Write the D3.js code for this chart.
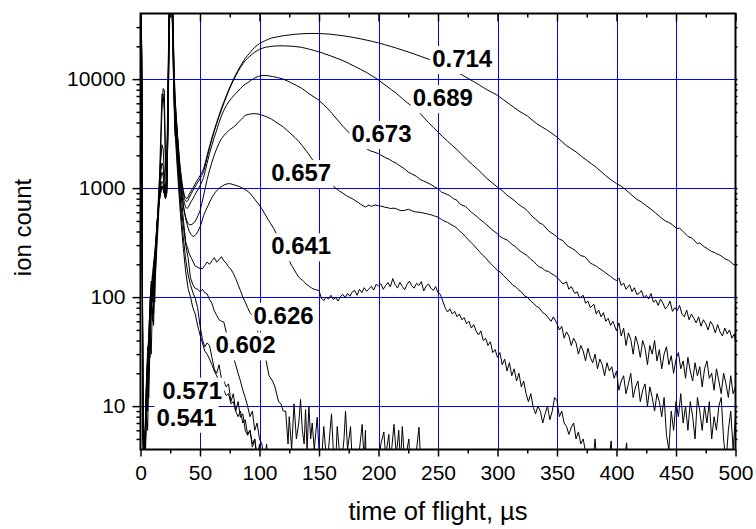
<!DOCTYPE html>
<html>
<head>
<meta charset="utf-8">
<script src="https://cdn.jsdelivr.net/npm/d3@7"></script>
<style>
  body { margin: 0; background: #fff; }
  svg { display: block; }
  text { font-family: "Liberation Sans", Arial, Helvetica, sans-serif; }
</style>
</head>
<body>
<svg id="chart" width="756" height="529"></svg>
<script>
// Time-of-flight spectra: [time (µs), ion count] for each ratio
const ratio541 = [[0,90000],[1,9000],[2,8],[3,2],[4,3],[5,9],[6,6],[7,20],[8,45],[9,30],[10,80],[11,55],[12,140],[13,200],[14,320],[15,500],[16,900],[17,2200],[18,5000],[19,8200],[20,8000],[21,2000],[22,900],[23,3000],[24,20000],[25,60000],[26,80000],[27,40000],[28,9000],[29,4000],
  [30,2200],[32,1000],[34,500],[36,280],[38,170],[40,120],[42,100],[44,80],[46,70],[48,55],[50,45],[52,38],[54,32],[56,30],[58,27],[60,24],[62,21],[64,19],[66,17],[68,15],[70,14],[72,12.5],[74,13],[76,10.5],[78,11],[80,9],[82,8],[84,9],[86,7],[88,7.5],[90,5.5],[92,6],[94,4.5],[96,5],[98,3.5],[100,4.2],[102,2],[106,2]];

const ratio571 = [[0,90000],[1,10000],[2,5],[3,3],[4,5],[5,10],[6,15],[7,12],[8,40],[9,100],[10,60],[11,120],[12,90],[13,230],[14,400],[15,700],[16,1300],[17,3000],[18,7300],[19,7300],[20,5000],[21,1600],[22,1000],[23,5000],[24,30000],[25,70000],[26,70000],[27,30000],[28,8000],[29,3500],
  [30,2500],[32,1200],[34,600],[36,350],[38,220],[40,160],[42,130],[44,110],[46,98],[48,80],[50,55],[52,41],[54,35],[56,38],[58,36],[60,28],[62,22],[64,20],[66,24],[68,18],[70,17],[72,15],[74,16],[76,11],[78,13],[80,9],[82,11],[84,7.9],[86,8.5],[88,6],[90,5.4],[92,6],[94,4.2],[96,5],[98,3],[100,4.5],[102,2],[106,2]];

const ratio602 = [[0,90000],[1,8000],[2,6],[3,2],[4,4],[5,8],[6,18],[7,35],[8,28],[9,90],[10,130],[11,70],[12,160],[13,250],[14,450],[15,800],[16,1200],[17,1800],[18,2500],[19,2300],[20,1400],[21,1000],[22,1200],[23,8000],[24,45000],[25,80000],[26,60000],[27,25000],[28,7000],[29,3000],
  [30,2800],[32,1400],[34,700],[36,450],[38,300],[40,230],[42,150],[44,130],[46,120],[48,118],[50,112],[52,118],[54,110],[56,107],[58,95],[60,88],[62,75],[64,68],[66,62],[68,60],[70,59],[72,48],[74,40],[76,33],[78,28],[80,24],[82,20],[84,17],[86,14],[88,12],[90,10],[92,8],[94,9],[96,6],[98,7],[100,5],[102,4.5],[104,3],[106,4.5],[108,2],[112,2]];

const ratio626 = [[0,90000],[1,12000],[2,7],[3,2],[4,4],[5,12],[6,9],[7,30],[8,70],[9,110],[10,90],[11,180],[12,150],[13,260],[14,420],[15,700],[16,1000],[17,1400],[18,1700],[19,1600],[20,1100],[21,900],[22,1100],[23,6000],[24,40000],[25,90000],[26,70000],[27,30000],[28,9000],[29,4500],
  [30,3000],[32,1600],[34,900],[36,520],[38,320],[41,250],[43,225],[46,193],[49,185],[52,182],[54,195],[56,210],[58,200],[60,215],[62,230],[64,210],[66,220],[68,235],[70,215],[72,205],[74,190],[76,180],[78,165],[80,148],[82,130],[84,115],[86,100],[88,90],[90,80],[92,72],[94,68],[97,55],[100,42],[103,32],[105,28],[108,19],[111,17],[113,15],[116,11],[118,10.5],[120,9],[122,9],[124,4.5],[125,8],[127,4],[129,10.5],[131,5],[133,7],[134.5,11.5],[136,6],[137.5,4.5],[138.7,9.3],[140,4],[141.5,10],[143,5],[144.3,7],[146,4],[148.5,7.9],[150,4],[152,3],[154,6.5],[156,3.5],[158,4],[160.5,8.5],[162,4],[164,3],[165.3,6.5],[167,4],[169,3],[171,5],[172.3,9],[174,4],[176.5,6.5],[178,3],[180,2],[184,4],[186.3,6.8],[188,3],[189,6],[190,2],[195,2],[200,3],[202,4.5],[204.5,5.8],[206,3.5],[208.7,5.5],[210,3],[213,6.8],[215,3.5],[217,6],[218.5,3],[220,6.5],[222,3],[225.5,5],[227,2.5],[230,3],[232,4],[234,6.4],[235.5,3],[237,2],[242,1]];

const ratio641 = [[0,90000],[1,15000],[2,9],[3,3],[4,5],[5,14],[6,25],[7,20],[8,60],[9,130],[10,100],[11,210],[12,170],[13,300],[14,450],[15,650],[16,900],[17,1200],[18,1400],[19,1300],[20,1000],[21,850],[22,1000],[23,5000],[24,35000],[25,80000],[26,80000],[27,35000],[28,10000],[29,5000],
  [30,3500],[31,2500],[32,1800],[33,1300],[34,1000],[35,800],[36.5,640],[38,520],[39.5,450],[41,400],[42.5,375],[44,360],[45.5,365],[47,380],[48.5,405],[50,440],[51.5,490],[53,560],[55,630],[57,700],[58.5,760],[60,820],[61.5,870],[63,920],[65,970],[67,1020],[69,1050],[71,1080],[73,1095],[75,1100],[77,1085],[80,1060],[82.5,1040],[85,1010],[88,970],[91,920],[93.5,860],[96,790],[99,720],[102,647],[104.5,580],[107,520],[109.5,470],[112,425],[117,330],[121,260],[125,217],[127,195],[129,180],[131,165],[133,152],[135,146],[137,140],[139,132],[142,125],[144,121],[146,118],
  [150,115],[152,98],[154,93],[156,100],[158,96],[160,104],[162,95],[164,99],[166,92],[168,101],[170,106],[172,99],[174,108],[176,102],[178,112],[180,115],[182,104],[184,118],[186,110],[188,122],[190,113],[192,119],[194,126],[196,116],[198,131],[200,127],[202,133],[204,118],[206,128],[208,136],[210,124],[212,148],[214,130],[216,121],[218,137],[220,125],[222,117],[224,131],[226,140],[228,127],[230,121],[232,134],[234,128],[236,139],[238,114],[240,126],[242,132],[244,121],[246,115],[248,125],[250,110],[252,106],[254,92],[256,80],[258,73],
  [260,78],[262,70],[264,74],[266,66],[268,70],[270,62],[272,65],[274,57],[276,60],[278,52],[280,56],[282,49],[284,45],[286,49],[288,40],[290,42],[292,36],[294,39],[296,31],[298,33],[300,28],[302,31],[304,24],[306,27],[308,21],[310,25],[312,19],[314,22],[316,17],[318,20],[320,15],[322,17],[324,13],[326,11],[328,13],[330,9.8],[332,8.5],[334,10],[336,9],[338,7],[340,8.5],[342,10],[344,7.5],[346,9],[348,12],[350,11.2],[352,8],[354,9],[356,7],[358,6.5],[360,5.5],[362,6.4],[364,7],[366,5],[368,5.8],[370,4.5],[372,5],[374,3.8],[376,2.5],[380,3],[382,5],[384,2.5],[390,2],[394,3.5],[395.5,4.8],[397,2.5],[405,2],[407,3.5],[408.5,4.6],[410,2.5],[420,1]];

const ratio657 = [[0,90000],[1,14000],[2,6],[3,2],[4,6],[5,10],[6,30],[7,45],[8,35],[9,110],[10,160],[11,120],[12,230],[13,320],[14,480],[15,640],[16,850],[17,1050],[18,1150],[19,1100],[20,950],[21,850],[22,1000],[23,4500],[24,30000],[25,80000],[26,90000],[27,40000],[28,12000],[29,5500],
  [30,3900],[31,2800],[32,2000],[33,1400],[34,1080],[35,850],[36,700],[37,600],[38,540],[39,500],[40,475],[41,460],[42.5,462],[44,470],[45.5,490],[47,520],[48.5,565],[50,620],[51.5,720],[53,850],[54.5,1010],[56,1200],[58,1460],[60,1730],[62,2010],[64,2300],[66,2580],[68,2840],[70,3030],[72,3200],[74,3360],[76,3500],[78,3620],[80,3770],[82,3990],[84,4200],[86,4430],[88,4650],[90.5,4740],[93,4800],[95.5,4820],[98,4800],[101,4720],[104,4600],[107,4460],[110,4300],[112.5,4130],[115,3950],[117.5,3800],[120,3640],[122.5,3440],[125,3250],[127.5,3070],[130,2900],[133,2680],[136,2450],[139.5,2180],[143,1930],[148,1600],[154,1350],[160,1100],[162.5,1030],[165,980],[167.5,935],[170,900],[172.5,860],[175,830],[178,800],[180,773],[183,740],[185,710],[187,690],[189,670],[192,700],[194,680],[197,700],[200,690],[203,680],[205,670],[208,660],[210,650],[213,655],[216,640],[219,620],[222,625],[225,640],[228,620],[231,605],[235,600],[238,590],[241,580],[244,570],[246,560],[248,550],[250,542],[253,515],[255,500],[258,485],[260,470],[263,450],[265,439],[268,405],[270,390],[273,360],[275,340],[278,315],[280,300],[283,275],[285,260],[288,240],[290,230],[293,210],[295,200],[298,185],[300,176],[303,168],[305,158],[308,146],[310,140],[313,128],[315,125],[318,116],[320,112],[323,102],[325,100],[328,92],[330,88],[333,82],[335,80],[338,72],[340,70],[343,64],[345,60],[347,66],[350,57],[352,50],[354,54],[356,42],[358,48],[360,44],[362,36],[364,42],[366,38],[368,30],[370,36],[372,32],[374,26],[376,34],[378,28],[380,25],[382,30],[384,22],[386,27],[388,24],[390,19],[392,25],[394,21],[396,23],[398,18],[400,21],[402,14],[404,17],[406,19],[408,13],[410,16],[412,20],[414,12],[416,15],[418,17],[420,11],[422,14],[424,16],[426,10],[428,15],[430,12],[432,9],[434,13],[436,11],[438,8],[440,12],[442,5.4],[444,4],[446,9],[448,6],[450,11],[452,8],[454,13],[456,7],[458,10],[460,6],[462,11],[464,8],[466,5],[468,12],[470,9],[472,6],[474,10],[476,7],[478,11],[480,5],[482,8],[484,6],[486,10],[488,12],[490,5],[492,3],[494,6],[496,9],[498,4],[500,8]];

const ratio673 = [[0,90000],[1,16000],[2,10],[3,4],[4,7],[5,16],[6,22],[7,50],[8,80],[9,70],[10,150],[11,200],[12,180],[13,330],[14,500],[15,650],[16,800],[17,950],[18,1050],[19,1000],[20,900],[21,820],[22,950],[23,4000],[24,30000],[25,90000],[26,90000],[27,45000],[28,13000],[29,6000],
  [30,4200],[31,3000],[32,2100],[33,1500],[34,1180],[35,950],[36,810],[37,720],[38,670],[39,650],[40,665],[41,700],[42.5,750],[44,800],[45.5,855],[47,920],[48.5,980],[50,1050],[51.5,1140],[53,1250],[54.5,1450],[56,1700],[58,2080],[60,2470],[62,2920],[64,3400],[66,4000],[68,4600],[70,5170],[72,5700],[74,6160],[76,6600],[78,6990],[80,7360],[82,7780],[84,8200],[86,8600],[88,9000],[89.5,9200],[91,9400],[93,9760],[95,10100],[97,10360],[99,10600],[101,10720],[103,10800],[105.5,10780],[108,10700],[111,10560],[114,10400],[117,10220],[120,10000],[123.5,9620],[127,9200],[131,8760],[135,8300],[138.5,7800],[142,7300],[146,6840],[150,6400],[153.5,5880],[157,5400],[161,4830],[165,4300],[167.5,3990],[170,3700],[173,3420],[176,3160],[179,2920],[182,2700],[185,2520],[187.5,2380],[190,2300],[193,2200],[196,2150],[200,2070],[203,1980],[206,1900],[209,1840],[212,1750],[215,1690],[218,1600],[222,1500],[225,1400],[228,1350],[232,1280],[235,1200],[238,1160],[241,1120],[244,1080],[247,1030],[250,990],[253,920],[255,900],[258,870],[260,850],[263,800],[266,773],[268,720],[270,700],[273,680],[275,650],[278,600],[280,580],[283,545],[285,520],[288,490],[290,470],[293,440],[295,420],[298,395],[300,382],[302,360],[305,345],[308,335],[310,320],[313,300],[315,290],[318,270],[320,260],[323,248],[325,240],[328,222],[330,215],[333,198],[335,190],[338,184],[340,175],[343,172],[345,165],[348,158],[350,152],[353,140],[355,132],[358,138],[360,118],[362,125],[365,108],[367,112],[369,98],[372,104],[374,88],[376,92],[378,80],[381,86],[383,70],[385,76],[387,66],[389,72],[391,60],[393,64],[395,55],[397,60],[400,49],[402,58],[404,44],[406,52],[408,36],[410,47],[412,41],[414,30],[416,44],[418,37],[420,28],[422,40],[424,34],[426,24],[428,36],[430,30],[432,40],[434,26],[436,33],[438,22],[440,30],[442,35],[444,24],[446,29],[448,20],[450,27],[452,31],[454,22],[456,26],[458,18],[460,28],[462,21],[464,17],[466,25],[468,19],[470,23],[472,15],[474,22],[476,26],[478,18],[480,20],[482,14],[484,22],[486,17],[488,13],[490,20],[492,16],[494,12],[496,19],[498,13],[500,15]];

const ratio689 = [[0,90000],[1,18000],[2,8],[3,3],[4,6],[5,18],[6,28],[7,40],[8,95],[9,120],[10,100],[11,190],[12,240],[13,300],[14,480],[15,600],[16,780],[17,900],[18,1000],[19,980],[20,880],[21,800],[22,900],[23,3500],[24,25000],[25,80000],[26,90000],[27,50000],[28,14000],[29,6500],
  [30,4400],[31,3100],[32,2200],[33,1600],[34,1280],[35,1050],[36,900],[37,800],[38,765],[39,750],[40,775],[41,820],[42.5,885],[44,950],[45.5,1010],[47,1080],[48.5,1150],[50,1220],[51.5,1310],[53,1420],[54.5,1630],[56,1900],[58,2330],[60,2800],[62,3330],[64,3900],[66,4530],[68,5200],[70,5980],[72,6800],[74,7740],[76,8700],[78,9690],[80,10700],[82,11750],[84,12800],[86,13820],[88,14800],[90,15550],[92,16300],[94,17010],[96,17700],[98,18250],[100,18800],[102.5,19220],[105,19600],[108.5,19880],[112,20100],[116,20180],[120,20200],[124,20120],[128,20000],[131.5,19820],[135,19600],[138.5,19220],[142,18800],[146,18300],[150,17800],[155,17030],[160,16300],[165,15540],[170,14800],[175,13940],[180,13100],[185,12280],[190,11500],[194.5,10720],[199,10000],[203,9260],[207,8600],[211,7980],[215,7400],[218,6930],[221,6500],[224,6100],[227,5750],[230.5,5360],[234,4990],[238,4450],[242,4000],[246,3610],[250,3270],[254,2960],[258,2700],[262,2460],[266,2250],[270.5,2010],[275,1800],[279,1640],[283,1500],[287,1360],[291,1230],[295.5,1120],[300,1020],[304,950],[307,880],[310,830],[314,773],[317,720],[320,680],[323,650],[325,620],[328,570],[330,540],[333,510],[335,480],[338,465],[340,440],[343,405],[345,390],[348,372],[350,356],[352,340],[355,330],[358,300],[360,290],[362,282],[365,270],[368,250],[370,240],[373,236],[375,225],[378,205],[380,200],[383,192],[385,185],[388,176],[390,170],[393,160],[395,155],[398,146],
  [400,142],[402,150],[404,128],[406,135],[408,118],[411,130],[413,112],[415,122],[417,106],[419,108],[421,115],[423,98],[425,104],[427,96],[429,108],[431,90],[433,94],[435,84],[437,96],[439,88],[441,78],[443,82],[445,92],[447,74],[449,80],[451,75],[453,84],[455,70],[457,66],[459,76],[461,62],[463,70],[465,64],[467,58],[469,66],[471,54],[473,62],[475,57],[477,50],[479,60],[481,55],[483,47],[485,56],[487,48],[489,44],[491,52],[493,46],[495,50],[497,42],[499,46],[500,38]];

const ratio714 = [[0,90000],[1,20000],[2,9],[3,3],[4,5],[5,15],[6,35],[7,30],[8,85],[9,140],[10,110],[11,200],[12,260],[13,350],[14,500],[15,650],[16,800],[17,950],[18,1050],[19,1000],[20,900],[21,800],[22,900],[23,3000],[24,22000],[25,75000],[26,90000],[27,55000],[28,16000],[29,7000],
  [30,4700],[31,3200],[32,2300],[33,1700],[34,1350],[35,1100],[36,950],[37,850],[38,815],[39,800],[40,830],[41,880],[42.5,940],[44,1000],[45.5,1070],[47,1150],[48.5,1220],[50,1300],[51.5,1390],[53,1500],[54.5,1720],[56,2000],[58,2420],[60,2900],[62,3410],[64,4000],[66,4660],[68,5400],[70,6160],[72,7000],[74,7930],[76,8900],[78,9930],[80,11000],[82,12100],[84,13200],[86,14350],[88,15500],[90,16500],[92,17500],[94,18560],[96,19600],[98,20400],[100,21200],[102.5,21920],[105,22600],[107.5,23220],[110,23800],[115,24450],[120,25000],[125,25420],[130,25800],[135,26040],[140,26200],[145,26250],[150,26200],[155,26030],[160,25800],[165,25420],[170,25000],[175,24520],[180,24000],[185,23420],[190,22800],[195,22160],[200,21500],[205,20760],[210,20000],[215,19250],[220,18500],[225,17750],[230,17000],[236.5,16030],[243,15100],[249,14180],[255,13300],[260.5,12420],[266,11600],[270.5,10880],[275,10200],[280,9480],[285,8800],[288.5,8330],[292,7900],[296,7490],[300,7100],[305,6470],[310,5900],[314,5490],[318,5100],[321.5,4840],[325,4600],[329,4230],[333,3900],[337,3660],[341,3450],[345.5,3190],[350,2940],[354,2680],[358,2450],[362,2300],[366,2150],[370.5,1960],[375,1800],[379,1670],[383,1550],[387,1420],[391,1300],[395.5,1190],[400,1100],[404,1040],[408,960],[412,880],[417,790],[421,745],[425,690],[429,640],[433,590],[437,540],[441,500],[444,485],[447,460],[451,425],[453,430],[455,410],[458,380],[460,360],[463,350],[465,335],[468,309],[470,315],[472,300],[474,288],[476,280],[478,270],[480,262],[482,258],[484,250],[486,246],[488,238],[490,230],[492,222],[494,218],[496,210],[498,200],[500,195]];

const ratioNames = ["0.541", "0.571", "0.602", "0.626", "0.641", "0.657", "0.673", "0.689", "0.714"];
const ratioSeries = [ratio541, ratio571, ratio602, ratio626, ratio641, ratio657, ratio673, ratio689, ratio714];

// Curve labels: text left baseline given as (time, count)
const labelTimes  = [13.4, 18.2, 63, 95, 109.8, 109.8, 177.3, 228.8, 245.1];
const labelCounts = [6.6, 11.7, 30.4, 57, 247, 1160, 2650, 5640, 12900];

const xTicks = [0, 50, 100, 150, 200, 250, 300, 350, 400, 450, 500];
const xMinorTicks = [25, 75, 125, 175, 225, 275, 325, 375, 425, 475];
const yTicks = [10, 100, 1000, 10000];
const yMinorTicks = [5, 6, 7, 8, 9, 20, 30, 40, 50, 60, 70, 80, 90, 200, 300, 400, 500, 600, 700, 800, 900,
                     2000, 3000, 4000, 5000, 6000, 7000, 8000, 9000, 20000, 30000];

const svg = d3.select("#chart");
const plotL = 140.5, plotR = 735.5, plotT = 13.5, plotB = 449.5;

const x = d3.scaleLinear().domain([0, 500]).range([plotL, plotR]);
const y = d3.scaleLog().domain([4, 40000]).range([plotB, plotT]);

svg.append("defs").append("clipPath").attr("id", "plotClip")
  .append("rect").attr("x", plotL).attr("y", plotT)
  .attr("width", plotR - plotL).attr("height", plotB - plotT);

// Grid
const grid = svg.append("g").attr("stroke", "#0000ff").attr("stroke-width", 1);
xTicks.filter(t => t > 0 && t < 500).forEach(t => {
  const px = Math.round(x(t)) + 0.5;
  grid.append("line").attr("x1", px).attr("x2", px).attr("y1", plotT).attr("y2", plotB);
});
yTicks.forEach(v => {
  const py = Math.round(y(v)) + 0.5;
  grid.append("line").attr("x1", plotL).attr("x2", plotR).attr("y1", py).attr("y2", py);
});

// Curves (straight segments between samples)
const line = d3.line()
  .x(d => x(d[0]))
  .y(d => y(d[1]))
  .curve(d3.curveLinear);

svg.append("g").attr("clip-path", "url(#plotClip)")
  .selectAll("path").data(ratioSeries).join("path")
  .attr("d", line)
  .attr("fill", "none")
  .attr("stroke", "#000")
  .attr("stroke-width", 1)
  .attr("stroke-linejoin", "round");

// Labels with white backing
const labels = svg.append("g");
ratioNames.forEach((name, i) => {
  const g = labels.append("g");
  const t = g.append("text")
    .attr("x", x(labelTimes[i]))
    .attr("y", y(labelCounts[i]))
    .attr("font-size", 24)
    .attr("font-weight", "bold")
    .attr("fill", "#000")
    .text(name);
  const bb = t.node().getBBox();
  g.insert("rect", "text")
    .attr("x", bb.x - 2).attr("y", bb.y + 1)
    .attr("width", bb.width + 4).attr("height", bb.height + 1)
    .attr("fill", "#fff");
});

// Axes
const axisFont = g => g.selectAll("text").attr("font-size", 21).attr("fill", "#000")
  .attr("font-family", "'Liberation Sans', Arial, sans-serif");
const tickStyle = g => {
  g.select(".domain").remove();
  g.selectAll(".tick line").attr("stroke", "#000").attr("stroke-width", 1.5);
};

svg.append("g").attr("transform", `translate(0,${plotB})`)
  .call(d3.axisBottom(x).tickValues(xTicks).tickSize(7).tickPadding(9).tickFormat(d3.format("d")))
  .call(tickStyle).call(axisFont);
svg.append("g").attr("transform", `translate(0,${plotB})`)
  .call(d3.axisBottom(x).tickValues(xMinorTicks).tickSize(4).tickFormat(""))
  .call(tickStyle);

svg.append("g").attr("transform", `translate(0,${plotT})`)
  .call(d3.axisTop(x).tickValues(xTicks).tickSize(-8).tickFormat(""))
  .call(tickStyle);
svg.append("g").attr("transform", `translate(0,${plotT})`)
  .call(d3.axisTop(x).tickValues(xMinorTicks).tickSize(-4).tickFormat(""))
  .call(tickStyle);

svg.append("g").attr("transform", `translate(${plotL},0)`)
  .call(d3.axisLeft(y).tickValues(yTicks).tickSize(8).tickPadding(7).tickFormat(d3.format("d")))
  .call(tickStyle).call(axisFont);
svg.append("g").attr("transform", `translate(${plotL},0)`)
  .call(d3.axisLeft(y).tickValues(yMinorTicks).tickSize(4).tickFormat(""))
  .call(tickStyle);

svg.append("g").attr("transform", `translate(${plotR},0)`)
  .call(d3.axisRight(y).tickValues(yTicks.concat(yMinorTicks)).tickSize(2).tickFormat(""))
  .call(tickStyle);

// Frame
svg.append("rect")
  .attr("x", plotL).attr("y", plotT)
  .attr("width", plotR - plotL).attr("height", plotB - plotT)
  .attr("fill", "none").attr("stroke", "#000").attr("stroke-width", 2);

// Axis titles
svg.append("text")
  .attr("x", (plotL + plotR) / 2).attr("y", 520)
  .attr("text-anchor", "middle").attr("font-size", 25.5).attr("fill", "#000")
  .text("time of flight, µs");
svg.append("text")
  .attr("transform", `translate(31,${(plotT + plotB) / 2 - 4}) rotate(-90)`)
  .attr("text-anchor", "middle").attr("font-size", 24).attr("fill", "#000")
  .text("ion count");
</script>
</body>
</html>
